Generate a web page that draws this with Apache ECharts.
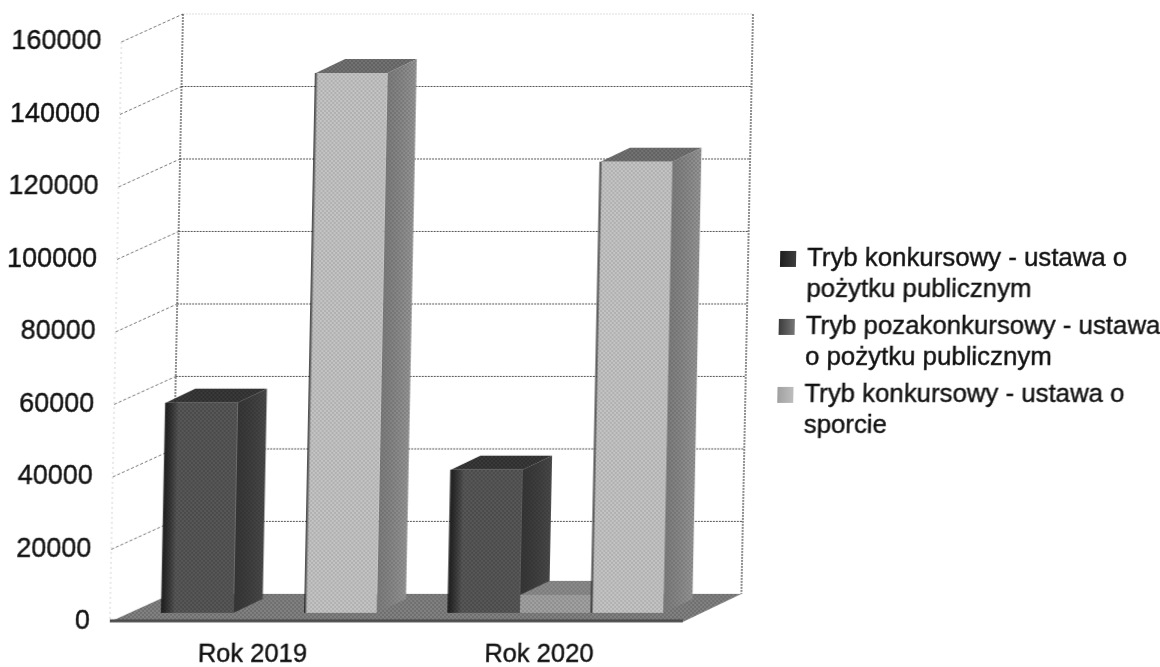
<!DOCTYPE html>
<html><head><meta charset="utf-8">
<style>html,body{margin:0;padding:0;background:#fff;overflow:hidden}
#c{width:1160px;height:667px;transform:skewX(-1.146deg);transform-origin:0 613px;filter:blur(0.5px)}</style>
<script src="https://cdn.jsdelivr.net/npm/echarts@6/dist/echarts.min.js"></script>
</head><body><div id="c"></div>
<script>
const categories = ['Rok 2019', 'Rok 2020'];
const yTicks = [0, 20000, 40000, 60000, 80000, 100000, 120000, 140000, 160000];
const konkursPozytek = [58000, 39500];
const pozakonkursPozytek = [0, 5000];
const konkursSport = [149000, 124500];
const seriesNames = [
  'Tryb konkursowy - ustawa o\npożytku publicznym',
  'Tryb pozakonkursowy - ustawa\no pożytku publicznym',
  'Tryb konkursowy - ustawa o\nsporcie'
];

const tile = (a, b) => {
  const c = document.createElement('canvas'); c.width = c.height = 4;
  const g = c.getContext('2d');
  g.fillStyle = a; g.fillRect(0, 0, 4, 4);
  g.fillStyle = b; g.fillRect(0, 0, 2, 2); g.fillRect(2, 2, 2, 2);
  return { image: c, repeat: 'repeat' };
};
const grad = (x, y, x2, y2, a, b) => ({ type: 'linear', x, y, x2, y2, colorStops: [{ offset: 0, color: a }, { offset: 1, color: b }] });

const WALL_DX = 61, WALL_DY = -28;
const PLANE_DX = 16, PLANE_DY = -9;
const BAR_DX = 29, BAR_DY = -14;

const looks = [
  { front: tile('#4a4a4a', '#585858'), side: tile('#404040', '#4a4a4a'), top: tile('#2e2e2e', '#3a3a3a'), edge: 'rgba(15,15,15,0.8)', edgeW: 14, sideShade: 'rgba(20,20,20,0.35)', icon: grad(0, 0, 1, 0, '#1e1e1e', '#484848') },
  { front: tile('#a2a2a2', '#8e8e8e'), side: tile('#7a7a7a', '#6c6c6c'), top: tile('#8c8c8c', '#7a7a7a'), edge: 'rgba(60,60,60,0)', edgeW: 1, sideShade: 'rgba(0,0,0,0)', icon: grad(0, 0, 1, 0, '#3c3c3c', '#8c8c8c') },
  { front: tile('#c4c4c4', '#b0b0b0'), side: tile('#969696', '#848484'), top: tile('#727272', '#626262'), edge: 'rgba(20,20,20,0.9)', edgeW: 3, sideShade: 'rgba(40,40,40,0.22)', icon: grad(0, 0, 1, 0, '#a0a0a0', '#c8c8c8') }
];

function barSeries(name, values, index) {
  const look = looks[index];
  return {
    type: 'custom', name, z: 5 + index,
    itemStyle: { color: look.icon },
    data: values.map((v, i) => [i, v]),
    renderItem(params, api) {
      const v = api.value(1);
      if (!v) return { type: 'group', children: [] };
      const c = api.coord([api.value(0), v]);
      const base = api.coord([api.value(0), 0]);
      const w = api.size([1, 0])[0] / 4;
      const x0 = c[0] + PLANE_DX + (index - 1.5) * w;
      const x1 = x0 + w;
      const yt = c[1] + PLANE_DY, yb = base[1] + PLANE_DY;
      const sidePts = [[x1, yt], [x1 + BAR_DX, yt + BAR_DY], [x1 + BAR_DX, yb + BAR_DY], [x1, yb]];
      const children = [
        { type: 'polygon', shape: { points: sidePts }, style: { fill: look.side } },
        { type: 'polygon', shape: { points: sidePts }, style: { fill: grad(0, 0, 1, 0, look.sideShade, 'rgba(0,0,0,0)') } },
        { type: 'polygon', shape: { points: [[x0, yt], [x1, yt], [x1 + BAR_DX, yt + BAR_DY], [x0 + BAR_DX, yt + BAR_DY]] }, style: { fill: look.top } },
        { type: 'rect', shape: { x: x0, y: yt, width: w, height: yb - yt }, style: { fill: look.front } },
        { type: 'rect', shape: { x: x0 - 1, y: yt, width: look.edgeW, height: yb - yt }, style: { fill: grad(0, 0, 1, 0, look.edge, 'rgba(0,0,0,0)') } }
      ];
      return { type: 'group', children };
    }
  };
}

const wallSeries = {
  type: 'custom', silent: true, z: 1,
  data: yTicks.map(v => [0, v]),
  renderItem(params, api) {
    const cs = params.coordSys;
    const y = api.coord([0, api.value(1)])[1];
    const xl = cs.x, xb = cs.x + WALL_DX, xr = cs.x + cs.width + WALL_DX - 3;
    const children = [];
    if (api.value(1) > 0) {
      children.push({ type: 'line', shape: { x1: xl, y1: y, x2: xb, y2: y + WALL_DY }, style: { stroke: '#777777', lineWidth: 1, lineDash: [3, 2] } });
      children.push({ type: 'line', shape: { x1: xb, y1: y + WALL_DY, x2: xr, y2: y + WALL_DY },
        style: { stroke: api.value(1) === 160000 ? '#dddddd' : '#555555', lineWidth: 1, lineDash: [2, 1] } });
    }
    if (api.value(1) === 160000) {
      const yb = cs.y + cs.height + WALL_DY;
      const yt = y + WALL_DY;
      children.push({ type: 'line', shape: { x1: xb, y1: yt, x2: xb, y2: yb }, style: { stroke: '#444444', lineWidth: 1.2, lineDash: [2, 1] } });
      children.push({ type: 'line', shape: { x1: xr, y1: yt, x2: xr, y2: yb }, style: { stroke: '#444444', lineWidth: 1.2, lineDash: [2, 1] } });
      children.push({ type: 'line', shape: { x1: xl, y1: y, x2: xl, y2: cs.y + cs.height }, style: { stroke: '#d4d4d4', lineWidth: 1, lineDash: [2, 3] } });
    }
    return { type: 'group', children };
  }
};

const floorSeries = {
  type: 'custom', silent: true, z: 2,
  data: [[0, 0]],
  renderItem(params, api) {
    const cs = params.coordSys;
    const y = api.coord([0, 0])[1];
    const xl = cs.x, xr = cs.x + cs.width;
    return { type: 'group', children: [
      { type: 'polygon', shape: { points: [[xl, y], [xr, y], [xr + WALL_DX - 3, y + WALL_DY], [xl + WALL_DX, y + WALL_DY]] }, style: { fill: tile('#828282', '#6e6e6e') } },
      { type: 'line', shape: { x1: xl, y1: y - 1, x2: xr, y2: y - 1 }, style: { stroke: '#4c4c4c', lineWidth: 3 } }
    ] };
  }
};

const TXT = '#111111', FONT = '"Liberation Sans", Arial, sans-serif';
const chart = echarts.init(document.getElementById('c'), null, { renderer: 'canvas' });
chart.setOption({
  animation: false,
  backgroundColor: '#ffffff',
  tooltip: { show: false },
  grid: { left: 110, top: 42, width: 573, height: 580, containLabel: false, outerBoundsMode: 'none' },
  xAxis: {
    type: 'category', data: categories,
    axisLine: { show: false }, axisTick: { show: false }, splitLine: { show: false },
    axisLabel: { color: TXT, fontFamily: FONT, fontSize: 25.5, margin: 20, textBorderColor: TXT, textBorderWidth: 0.4 }
  },
  yAxis: {
    type: 'value', min: 0, max: 160000, interval: 20000,
    axisLine: { show: false }, axisTick: { show: false }, splitLine: { show: false },
    axisLabel: { color: TXT, fontFamily: FONT, fontSize: 27, margin: 20, formatter: v => String(v), textBorderColor: TXT, textBorderWidth: 0.4 }
  },
  legend: {
    orient: 'vertical', left: 773, top: 243,
    itemWidth: 22, itemHeight: 46, itemGap: 6, padding: 0,
    icon: 'path://M0 0H16V16H0Z M22 46H22.01', selectedMode: false,
    data: seriesNames,
    textStyle: { color: TXT, fontFamily: FONT, fontSize: 25.8, lineHeight: 31, textBorderColor: TXT, textBorderWidth: 0.4 }
  },
  series: [
    wallSeries, floorSeries,
    barSeries(seriesNames[0], konkursPozytek, 0),
    barSeries(seriesNames[1], pozakonkursPozytek, 1),
    barSeries(seriesNames[2], konkursSport, 2)
  ]
});
</script></body></html>
